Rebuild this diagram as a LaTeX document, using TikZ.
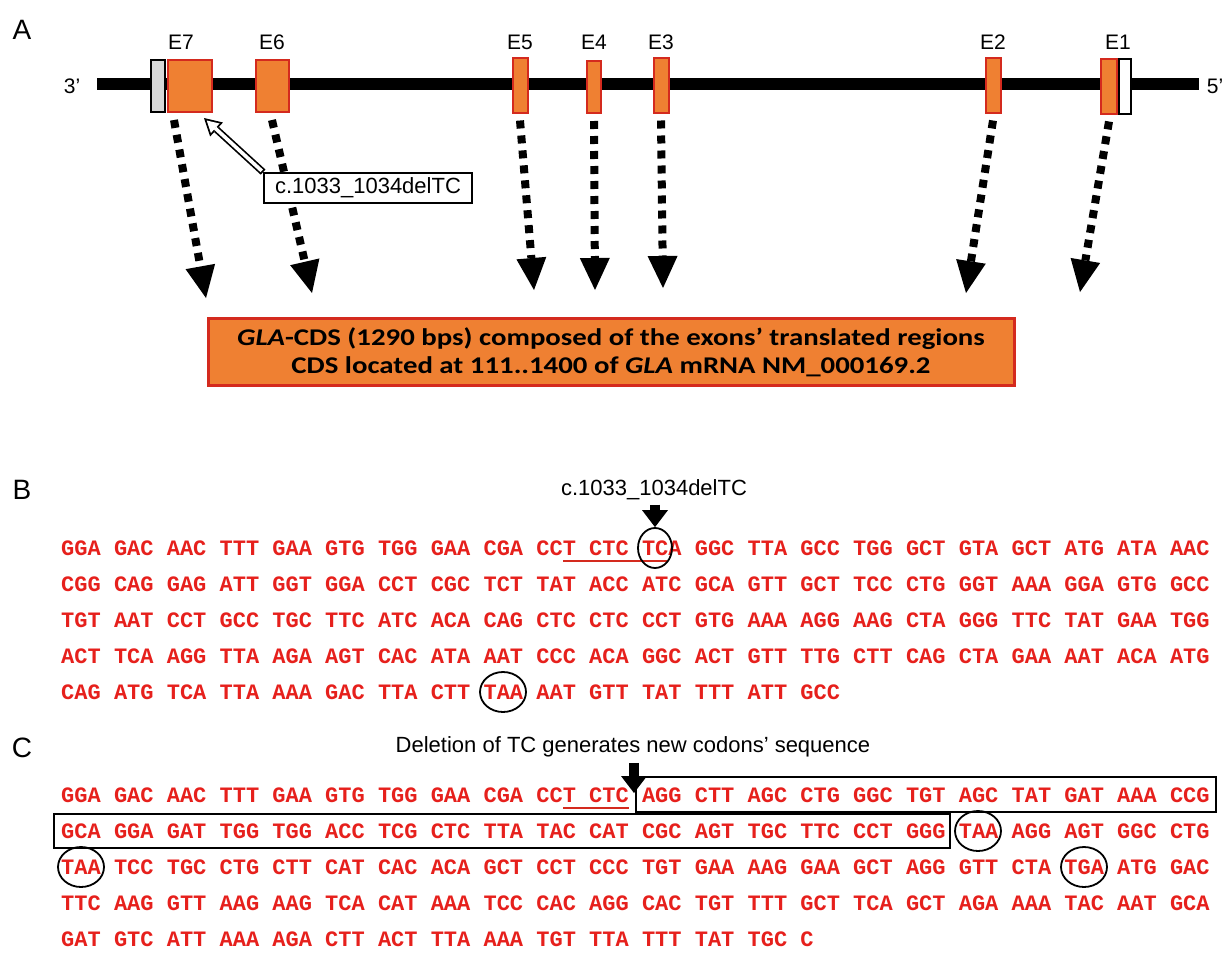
\documentclass[tikz,border=0pt]{standalone}
\usepackage{fontspec}
\setmainfont{Liberation Sans}
\newfontfamily\seqfont{Liberation Mono}
\newfontfamily\cdsfont[FakeStretch=1.2]{Carlito}
\usetikzlibrary{arrows.meta,shapes.geometric}
\definecolor{exonorange}{RGB}{239,128,50}
\definecolor{exonred}{RGB}{212,42,30}
\definecolor{seqred}{RGB}{230,32,28}
\definecolor{utrgrey}{RGB}{215,215,215}

\begin{document}
\begin{tikzpicture}[x=1pt,y=-1pt,
        exon/.style={draw=exonred,fill=exonorange,line width=2pt,inner sep=0pt,minimum height=52pt},
        utr/.style={draw=black,line width=2pt,inner sep=0pt,minimum height=52pt},
        exlabel/.style={font=\fontsize{21}{21}\selectfont},
        panel/.style={font=\fontsize{28}{28}\selectfont},
        dotarrow/.style={line width=8pt,dash pattern=on 8pt off 7pt,-{Triangle[length=32pt,width=30pt,line width=0pt]}},
        blockarrow/.style={line width=10pt,-{Triangle[length=17pt,width=26pt,line width=0pt]}},
        seq/.style={anchor=west,inner sep=0pt,text=seqred,font=\seqfont\bfseries\fontsize{22}{22}\selectfont},
        ring/.style={ellipse,draw=black,line width=1.8pt,inner sep=0pt},
        codonbox/.style={draw=black,line width=1.8pt},
        underl/.style={draw=exonred,line width=2.4pt}]
    \useasboundingbox (0,0) rectangle (1229,964);

    % panel A: gene
    \node[panel] (pa) at (22,30) {A};
    \coordinate (g3) at (97,84);
    \coordinate (g5) at (1199,84);
    \draw[line width=12pt] (g3) -- (g5);
    \node[exlabel] (p3) at (72,86) {3’};
    \node[exlabel] (p5) at (1215,86) {5’};

    \node[utr,fill=utrgrey,minimum width=14pt] (u7) at (158,86) {};
    \node[exon,minimum width=44pt] (e7) at (190,86) {};
    \node[exon,minimum width=33pt] (e6) at (272,86) {};
    \node[exon,minimum width=15pt,minimum height=55pt] (e5) at (520,85) {};
    \node[exon,minimum width=14pt] (e4) at (594,87) {};
    \node[exon,minimum width=15pt,minimum height=55pt] (e3) at (661,85) {};
    \node[exon,minimum width=15pt,minimum height=55pt] (e2) at (993,85) {};
    \node[exon,minimum width=16pt,minimum height=55pt] (e1) at (1109,86) {};
    \node[utr,fill=white,minimum width=12pt,minimum height=55pt] (u1) at (1125,86) {};

    \node[exlabel] (l7) at (181,42) {E7};
    \node[exlabel] (l6) at (272,42) {E6};
    \node[exlabel] (l5) at (520,42) {E5};
    \node[exlabel] (l4) at (594,42) {E4};
    \node[exlabel] (l3) at (661,42) {E3};
    \node[exlabel] (l2) at (993,42) {E2};
    \node[exlabel] (l1) at (1118,42) {E1};

    % arrows down to the CDS
    \coordinate (t7) at (206,298);
    \coordinate (t6) at (312,293);
    \coordinate (t5) at (534,290);
    \coordinate (t4) at (595,290);
    \coordinate (t3) at (663,288);
    \coordinate (t2) at (966,293);
    \coordinate (t1) at (1080,292);
    \draw[dotarrow] ([xshift=-16pt,yshift=-7pt]e7.south) -- (t7);
    \draw[dotarrow] ([yshift=-7pt]e6.south) -- (t6);
    \draw[dotarrow] ([yshift=-7pt]e5.south) -- (t5);
    \draw[dotarrow] ([yshift=-7pt]e4.south) -- (t4);
    \draw[dotarrow] ([yshift=-7pt]e3.south) -- (t3);
    \draw[dotarrow] ([yshift=-7pt]e2.south) -- (t2);
    \draw[dotarrow] ([yshift=-7pt]e1.south) -- (t1);

    \node[codonbox,fill=white,minimum width=208pt,minimum height=30pt,inner sep=3pt,font=\fontsize{22}{22}\selectfont] (mut) at (368,188) {c.1033\_1034delTC};
    \coordinate (m7) at (204,118);
    \draw[line width=7pt,-{Triangle[length=17pt,width=19pt,line width=0pt]}] (mut.north west) -- (m7);
    \draw[line width=3.6pt,white,shorten <=1.8pt,shorten >=3.7pt,-{Triangle[length=11.5pt,width=12.9pt,line width=0pt]}] (mut.north west) -- (m7);

    \node[draw=exonred,fill=exonorange,line width=3pt,minimum width=806pt,minimum height=67pt,align=center,
        font=\cdsfont\bfseries\fontsize{24}{28}\selectfont] (cds) at (611,352)
        {\textit{GLA}-CDS (1290 bps) composed of the exons’ translated regions\\CDS located at 111..1400 of \textit{GLA} mRNA NM\_000169.2};

    % panel B: wild type
    \node[panel] (pb) at (22,490) {B};
    \node[exlabel,font=\fontsize{22}{22}\selectfont] (lblB) at (654,490) {c.1033\_1034delTC};
    \node[seq] (b1) at (61,548) {GGA GAC AAC TTT GAA GTG TGG GAA CGA CCT CTC TCA GGC TTA GCC TGG GCT GTA GCT ATG ATA AAC};
    \node[seq] (b2) at (61,584) {CGG CAG GAG ATT GGT GGA CCT CGC TCT TAT ACC ATC GCA GTT GCT TCC CTG GGT AAA GGA GTG GCC};
    \node[seq] (b3) at (61,620) {TGT AAT CCT GCC TGC TTC ATC ACA CAG CTC CTC CCT GTG AAA AGG AAG CTA GGG TTC TAT GAA TGG};
    \node[seq] (b4) at (61,656) {ACT TCA AGG TTA AGA AGT CAC ATA AAT CCC ACA GGC ACT GTT TTG CTT CAG CTA GAA AAT ACA ATG};
    \node[seq] (b5) at (61,692) {CAG ATG TCA TTA AAA GAC TTA CTT TAA AAT GTT TAT TTT ATT GCC};
    \coordinate (ub1) at (563,561);
    \coordinate (ub2) at (667,561);
    \draw[underl] (ub1) -- (ub2);
    \node[ring,minimum width=34pt,minimum height=40pt] (tcB) at (655,548) {};
    \node[ring,minimum width=46pt,minimum height=40pt] (stopB) at (503,692) {};
    \draw[blockarrow] ([yshift=-1pt]lblB.south -| tcB) -- (tcB.north);

    % panel C: after the deletion
    \node[panel] (pc) at (22,748) {C};
    \node[exlabel,font=\fontsize{22}{22}\selectfont] (lblC) at (633,747) {Deletion of TC generates new codons’ sequence};
    \node[seq] (c1) at (61,795) {GGA GAC AAC TTT GAA GTG TGG GAA CGA CCT CTC AGG CTT AGC CTG GGC TGT AGC TAT GAT AAA CCG};
    \node[seq] (c2) at (61,831) {GCA GGA GAT TGG TGG ACC TCG CTC TTA TAC CAT CGC AGT TGC TTC CCT GGG TAA AGG AGT GGC CTG};
    \node[seq] (c3) at (61,867) {TAA TCC TGC CTG CTT CAT CAC ACA GCT CCT CCC TGT GAA AAG GAA GCT AGG GTT CTA TGA ATG GAC};
    \node[seq] (c4) at (61,903) {TTC AAG GTT AAG AAG TCA CAT AAA TCC CAC AGG CAC TGT TTT GCT TCA GCT AGA AAA TAC AAT GCA};
    \node[seq] (c5) at (61,939) {GAT GTC ATT AAA AGA CTT ACT TTA AAA TGT TTA TTT TAT TGC C};
    \coordinate (uc1) at (563,808);
    \coordinate (uc2) at (629,808);
    \draw[underl] (uc1) -- (uc2);
    \draw[codonbox] (636,777) rectangle (1216,812);
    \draw[codonbox] (54,814) rectangle (950,848);
    \node[ring,minimum width=46pt,minimum height=40pt] (stopC1) at (978,831) {};
    \node[ring,minimum width=46pt,minimum height=40pt] (stopC2) at (81,867) {};
    \node[ring,minimum width=46pt,minimum height=40pt] (stopC3) at (1084,867) {};
    \coordinate (cdel) at (634,793);
    \draw[blockarrow] ([yshift=-2pt]lblC.south -| cdel) -- (cdel);
\end{tikzpicture}
\end{document}
